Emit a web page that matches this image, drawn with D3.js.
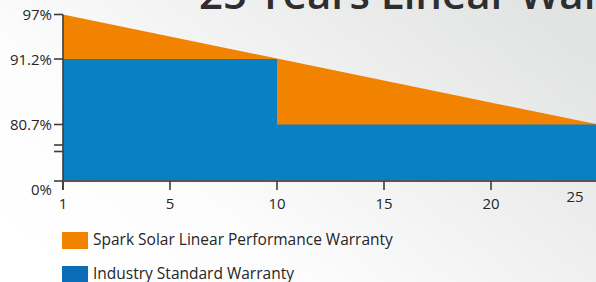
<!DOCTYPE html>
<html>
<head>
<meta charset="utf-8">
<script src="https://cdn.jsdelivr.net/npm/d3@7"></script>
<style>
  html, body { margin: 0; padding: 0; overflow: hidden; }
  svg { display: block; font-family: 'Open Sans', sans-serif; }
</style>
</head>
<body>
<svg id="chart" width="596" height="282"></svg>
<script>
// data
const years = [1, 10, 25]
const sparkWarranty = [97, 80.7]            // straight line, year 1 to year 25
const industryWarranty = [91.2, 80.7, 80.7] // step: 91.2% to year 10, then 80.7%
const yTickValues = [97, 91.2, 80.7, 0]
const yTickLabels = ['97%', '91.2%', '80.7%', '0%']
const xTickValues = [1, 5, 10, 15, 20, 25]
const legendLabels = ['Spark Solar Linear Performance Warranty', 'Industry Standard Warranty']
const titleParts = ['25 ', 'Years Linear Warranty']

const ORANGE = '#f28300'
const BLUE = '#0880c2'
const LEGEND_BLUE = '#0b6cb6'
const AXIS = '#3d3d3d'
const LABEL = '#262626'

const svg = d3.select('#chart')

// background wash
const defs = svg.append('defs')
const grad = defs.append('linearGradient')
  .attr('id', 'bg')
  .attr('x1', '0').attr('y1', '0.8')
  .attr('x2', '1').attr('y2', '0.2')
grad.append('stop').attr('offset', '0%').attr('stop-color', '#ffffff')
grad.append('stop').attr('offset', '30%').attr('stop-color', '#fcfcfc')
grad.append('stop').attr('offset', '100%').attr('stop-color', '#e2e3e3')
svg.append('rect').attr('width', 596).attr('height', 282).attr('fill', 'url(#bg)')

// title, mostly cropped off the top; "Years" starts near x=247
const titleSize = 42
const probe = svg.append('text').attr('font-size', titleSize).attr('font-weight', 600).text(titleParts[0])
const lead = probe.node().getComputedTextLength()
probe.remove()
svg.append('text')
  .attr('x', 247 - lead)
  .attr('y', 9)
  .attr('font-size', titleSize)
  .attr('font-weight', 600)
  .attr('fill', '#2e2e2e')
  .text(titleParts.join(''))

// the axes are broken, so both scales are piecewise
const x = d3.scaleLinear().domain([1, 5, 25]).range([63, 170, 598])
const y = d3.scaleLinear().domain([0, 80.7, 91.2, 97]).range([181, 124.5, 59, 14.5])

// orange linear warranty area
svg.append('path')
  .datum(sparkWarranty)
  .attr('d', d3.area()
    .x((d, i) => x(i === 0 ? years[0] : years[years.length - 1]))
    .y0(y(0))
    .y1(d => y(d)))
  .attr('fill', ORANGE)

// blue step area
svg.append('path')
  .datum(industryWarranty)
  .attr('d', d3.area()
    .curve(d3.curveStepAfter)
    .x((d, i) => x(years[i]))
    .y0(y(0))
    .y1(d => y(d)))
  .attr('fill', BLUE)

// y axis
const yAxis = svg.append('g').attr('class', 'y-axis')
yAxis.append('line')
  .attr('x1', x(1)).attr('x2', x(1))
  .attr('y1', y(97)).attr('y2', y(0) + 9)
  .attr('stroke', AXIS).attr('stroke-width', 1.6)
yTickValues.forEach((v, i) => {
  yAxis.append('line')
    .attr('x1', x(1) - 9).attr('x2', x(1))
    .attr('y1', y(v)).attr('y2', y(v))
    .attr('stroke', AXIS).attr('stroke-width', 1.6)
  yAxis.append('text')
    .attr('x', 52)
    .attr('y', v === 0 ? y(v) + 14 : y(v) + 5.5)
    .attr('text-anchor', 'end')
    .attr('font-size', 15)
    .attr('fill', LABEL)
    .text(yTickLabels[i])
})

// axis break marks
;[145, 151.5].forEach(py => {
  yAxis.append('line')
    .attr('x1', x(1) - 9).attr('x2', x(1))
    .attr('y1', py).attr('y2', py)
    .attr('stroke', AXIS).attr('stroke-width', 1.6)
})

// x axis
const xAxis = svg.append('g').attr('class', 'x-axis')
xAxis.append('line')
  .attr('x1', x(1)).attr('x2', 596)
  .attr('y1', y(0)).attr('y2', y(0))
  .attr('stroke', '#555').attr('stroke-width', 1.8)
xTickValues.forEach(v => {
  const last = v === 25
  if (!last) {
    xAxis.append('line')
      .attr('x1', x(v)).attr('x2', x(v))
      .attr('y1', y(0)).attr('y2', y(0) + 9)
      .attr('stroke', AXIS).attr('stroke-width', 1.6)
  }
  xAxis.append('text')
    .attr('x', last ? x(v) - 23 : x(v))
    .attr('y', last ? 202 : 209)
    .attr('text-anchor', 'middle')
    .attr('font-size', 15)
    .attr('fill', LABEL)
    .text(v)
})

// legend
const legend = svg.append('g').attr('class', 'legend')
const legendColors = [ORANGE, LEGEND_BLUE]
legendLabels.forEach((label, i) => {
  const top = 232 + i * 34
  legend.append('rect')
    .attr('x', 62).attr('y', top)
    .attr('width', 26).attr('height', 17)
    .attr('fill', legendColors[i])
  legend.append('text')
    .attr('x', 93)
    .attr('y', top + 12.5)
    .attr('font-size', 15.5)
    .attr('fill', LABEL)
    .text(label)
})
</script>
</body>
</html>
